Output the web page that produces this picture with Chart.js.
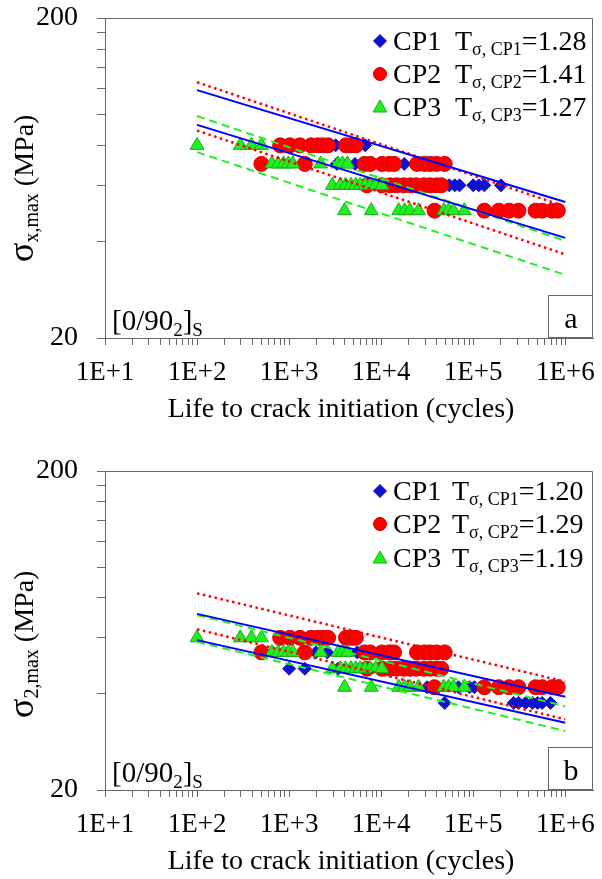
<!DOCTYPE html>
<html>
<head>
<meta charset="utf-8">
<script src="https://cdn.jsdelivr.net/npm/chart.js@4.4.0/dist/chart.umd.min.js"></script>
<style>
  html, body { margin: 0; padding: 0; background: #fff; }
  body { width: 602px; height: 879px; position: relative; overflow: hidden; }
  .panel { position: absolute; left: 0; width: 602px; }
  #pa { top: 0; height: 440px; }
  #pb { top: 453px; height: 426px; }
</style>
</head>
<body>
<div class="panel" id="pa"><canvas id="chart-a"></canvas></div>
<div class="panel" id="pb"><canvas id="chart-b"></canvas></div>
<script>
"use strict";

const SERIF = "'Liberation Serif', 'Times New Roman', serif";

// axes
const X_TICKS = [];
for (let d = 1; d <= 5; d++) for (let m = 1; m <= 9; m++) X_TICKS.push(m * Math.pow(10, d));
X_TICKS.push(1e6);
const X_DECADES = [1e1, 1e2, 1e3, 1e4, 1e5, 1e6];
const X_LABELS = ["1E+1", "1E+2", "1E+3", "1E+4", "1E+5", "1E+6"];
const Y_TICKS = [20, 40, 60, 80, 100, 120, 140, 160, 180, 200];
const Y_LABELS = ["20", "200"];

// legend
const SERIES = ["CP1", "CP2", "CP3"];
const A_T = ["1.28", "1.41", "1.27"];
const B_T = ["1.20", "1.29", "1.19"];

// ---- panel a : sigma_x,max ----
const A_CP1_N = [1300, 2300, 3200, 6700, 3300, 5200, 8300, 17800, 55000, 63000, 71000, 100000, 115000, 132000, 200000, 300000, 600000];
const A_CP1_S = [80, 80, 80, 80, 70, 70, 70, 70, 60, 60, 60, 60, 60, 60, 60, 50, 50];

const A_CP2_N = [800, 1020, 1310, 1730, 2050, 2330, 2650, 4150, 4700, 5300,
  500, 1480, 6600, 7600, 10200, 12200, 13800, 24500, 29500, 34000, 40000, 49000,
  7000, 10200, 12500, 14800, 17600, 20600, 24000, 29000, 34000, 40000, 45000,
  38000, 132000, 190000, 245000, 310000, 475000, 560000, 720000, 830000];
const A_CP2_S = [80, 80, 80, 80, 80, 80, 80, 80, 80, 80,
  70, 70, 70, 70, 70, 70, 70, 70, 70, 70, 70, 70,
  60, 60, 60, 60, 60, 60, 60, 60, 60, 60, 60,
  50, 50, 50, 50, 50, 50, 50, 50, 50];

const A_CP3_N = [100, 295, 390, 500,
  650, 760, 870, 980, 1100, 2200, 3400, 3800, 4300,
  2950, 3600, 4100, 4700, 5300, 5900, 6700, 7600, 8700, 10200,
  4000, 7800, 15500, 18000, 20500, 25500, 48000, 54000, 61000, 80000];
const A_CP3_S = [80, 80, 80, 80,
  70, 70, 70, 70, 70, 70, 70, 70, 70,
  60, 60, 60, 60, 60, 60, 60, 60, 60, 60,
  50, 50, 50, 50, 50, 50, 50, 50, 50, 50];

// scatter band lines (two ends each)
const FIT_N = [100, 1e6];
const A_CP1_UP = [119, 53.2];
const A_CP1_LO = [92.7, 41.1];
const A_CP2_UP = [126, 51.5];
const A_CP2_LO = [89, 36.5];
const A_CP3_UP = [98.8, 40.2];
const A_CP3_LO = [76.2, 31.5];

// ---- panel b : sigma_2,max ----
const B_CP1_N = [1000, 1480, 3400, 1950, 2600, 5500, 31500, 69000, 91000, 103000, 200000,
  49000, 275000, 310000, 370000, 440000, 500000, 560000, 690000];
const B_CP1_S = [48, 48, 48, 54, 54, 54, 42, 42, 42, 42, 42,
  37.5, 37.5, 37.5, 37.5, 37.5, 37.5, 37.5, 37.5];

const B_CP2_N = A_CP2_N;
const B_CP2_S = [60, 60, 60, 60, 60, 60, 60, 60, 60, 60,
  54, 54, 54, 54, 54, 54, 54, 54, 54, 54, 54, 54,
  48, 48, 48, 48, 48, 48, 48, 48, 48, 48, 48,
  42, 42, 42, 42, 42, 42, 42, 42, 42];

const B_CP3_N = A_CP3_N;
const B_CP3_S = [60, 60, 60, 60,
  54, 54, 54, 54, 54, 54, 54, 54, 54,
  48, 48, 48, 48, 48, 48, 48, 48, 48, 48,
  42, 42, 42, 42, 42, 42, 42, 42, 42, 42];

const B_CP1_UP = [71.3, 39.2];
const B_CP1_LO = [59.0, 32.5];
const B_CP2_UP = [82.7, 43.7];
const B_CP2_LO = [63.8, 33.3];
const B_CP3_UP = [70.7, 36.6];
const B_CP3_LO = [58.3, 30.6];

const COLORS = {
  cp1: "#1010d0", cp1Line: "#0000ff",
  cp2: "#ff0000", cp2Edge: "#d80000", cp2Line: "#ff0000",
  cp3: "#22ee22", cp3Edge: "#10b010", cp3Line: "#22ee22",
  axis: "#666666",
};

function pts(ns, ss) {
  return ns.map((n, i) => ({ x: n, y: ss[i] }));
}

function markers(label, ns, ss, style, fill, edge, r, order) {
  return {
    label, data: pts(ns, ss), pointStyle: style, pointRadius: r,
    pointBackgroundColor: fill, pointBorderColor: edge, pointBorderWidth: 1,
    showLine: false, order,
  };
}

function band(ss, color, dash, width) {
  return {
    data: pts(FIT_N, ss), showLine: true, pointRadius: 0, borderColor: color,
    borderWidth: width, borderDash: dash, fill: false, tension: 0, order: 0,
  };
}

function drawRich(ctx, parts, x, y) {
  let cx = x;
  for (const [t, size, dy] of parts) {
    ctx.font = `${size}px ${SERIF}`;
    ctx.fillText(t, cx, y + dy);
    cx += ctx.measureText(t).width;
  }
  return cx - x;
}

function drawMarker(ctx, style, x, y, r, fill, edge) {
  ctx.save();
  ctx.fillStyle = fill;
  ctx.strokeStyle = edge;
  ctx.lineWidth = 1;
  ctx.beginPath();
  if (style === "circle") {
    ctx.arc(x, y, r, 0, Math.PI * 2);
  } else if (style === "rectRot") {
    ctx.moveTo(x, y - r); ctx.lineTo(x + r, y); ctx.lineTo(x, y + r); ctx.lineTo(x - r, y);
    ctx.closePath();
  } else {
    for (let k = 0; k < 3; k++) {
      const a = -Math.PI / 2 + k * 2 * Math.PI / 3;
      const px = x + Math.cos(a) * r, py = y + Math.sin(a) * r;
      if (k === 0) ctx.moveTo(px, py); else ctx.lineTo(px, py);
    }
    ctx.closePath();
  }
  ctx.fill();
  ctx.stroke();
  ctx.restore();
}

const panelDecor = {
  id: "panelDecor",
  afterDraw(chart, args, o) {
    const { ctx, chartArea: ca } = chart;
    ctx.save();
    // frame top + right
    ctx.strokeStyle = COLORS.axis;
    ctx.lineWidth = 1;
    ctx.beginPath();
    ctx.moveTo(ca.left, ca.top + 0.5);
    ctx.lineTo(ca.right - 0.5, ca.top + 0.5);
    ctx.lineTo(ca.right - 0.5, ca.bottom);
    ctx.stroke();
    // panel letter box
    ctx.strokeRect(ca.right - 44.5, ca.bottom - 42.5, 44, 42);
    ctx.fillStyle = "#000";
    ctx.textBaseline = "alphabetic";
    ctx.textAlign = "center";
    ctx.font = `30px ${SERIF}`;
    ctx.fillText(o.letter, ca.right - 22, ca.bottom - 10);
    ctx.textAlign = "left";
    // laminate label
    drawRich(ctx, [["[0/90", 29, 0], ["2", 19, 6], ["]", 29, 0], ["S", 19, 6]], ca.left + 7, ca.bottom - 8);
    // legend
    const styles = [
      ["rectRot", 6.5, COLORS.cp1, COLORS.cp1],
      ["circle", 6.5, COLORS.cp2, COLORS.cp2Edge],
      ["triangle", 8, COLORS.cp3, COLORS.cp3Edge],
    ];
    o.rows.forEach((base, i) => {
      const [st, r, f, e] = styles[i];
      drawMarker(ctx, st, 380, base - 9 + (st === "triangle" ? 1 : 0), r, f, e);
      drawRich(ctx, [[SERIES[i], 28, 0]], 393, base);
      drawRich(ctx, [["T", 28, 0], ["\u03c3, " + SERIES[i], 18, 5], ["=" + o.tvals[i], 28, 0]], o.tx, base);
    });
    // y title (rotated)
    const yParts = [["\u03c3", 36, 0], [o.ysub, 20, 5], [" (MPa)", 28, 0]];
    ctx.translate(33, o.yStart);
    ctx.rotate(-Math.PI / 2);
    drawRich(ctx, yParts, 0, 0);
    ctx.restore();
    // x title
    ctx.save();
    ctx.fillStyle = "#000";
    ctx.font = `28px ${SERIF}`;
    ctx.textAlign = "center";
    ctx.textBaseline = "alphabetic";
    ctx.fillText("Life to crack initiation (cycles)", 341, ca.bottom + 79);
    ctx.restore();
  },
};

function makePanel(id, sets, lines, deco, xHeight) {
  const datasets = [
    ...lines,
    markers("CP3", sets[2][0], sets[2][1], "triangle", COLORS.cp3, COLORS.cp3Edge, 8, 1),
    markers("CP2", sets[1][0], sets[1][1], "circle", COLORS.cp2, COLORS.cp2Edge, 7.5, 2),
    markers("CP1", sets[0][0], sets[0][1], "rectRot", COLORS.cp1, COLORS.cp1, 6.5, 3),
  ];
  return new Chart(document.getElementById(id), {
    type: "scatter",
    data: { datasets },
    plugins: [panelDecor],
    options: {
      responsive: true,
      maintainAspectRatio: false,
      animation: false,
      layout: { padding: { top: 18, right: 5, left: 0, bottom: 0 } },
      plugins: {
        legend: { display: false },
        tooltip: { enabled: false },
        panelDecor: deco,
      },
      scales: {
        x: {
          type: "logarithmic",
          min: 10,
          max: 2e6,
          afterBuildTicks: (s) => { s.ticks = X_TICKS.map((v) => ({ value: v })); },
          afterFit: (s) => { s.height = xHeight; s.paddingLeft = 0; s.paddingRight = 0; },
          ticks: {
            autoSkip: false,
            maxRotation: 0,
            padding: 12,
            color: "#000",
            font: { family: SERIF, size: 27 },
            callback: (v) => {
              const k = X_DECADES.indexOf(v);
              return k >= 0 ? X_LABELS[k] : "";
            },
          },
          grid: { drawOnChartArea: false, drawTicks: true, tickLength: 7, color: COLORS.axis },
          border: { color: COLORS.axis, width: 1 },
        },
        y: {
          type: "logarithmic",
          min: 20,
          max: 200,
          afterBuildTicks: (s) => { s.ticks = Y_TICKS.map((v) => ({ value: v })); },
          afterFit: (s) => { s.width = 105; s.paddingTop = 0; s.paddingBottom = 0; },
          ticks: {
            autoSkip: false,
            padding: 19,
            color: "#000",
            font: { family: SERIF, size: 28 },
            callback: (v) => (Y_LABELS.includes(String(v)) ? String(v) : ""),
          },
          grid: { drawOnChartArea: false, drawTicks: true, tickLength: 8, color: COLORS.axis },
          border: { color: COLORS.axis, width: 1 },
        },
      },
    },
  });
}

const DOT = [2.5, 3.5];
const DASH = [8, 5];

makePanel(
  "chart-a",
  [[A_CP1_N, A_CP1_S], [A_CP2_N, A_CP2_S], [A_CP3_N, A_CP3_S]],
  [
    band(A_CP1_UP, COLORS.cp1Line, [], 2), band(A_CP1_LO, COLORS.cp1Line, [], 2),
    band(A_CP2_UP, COLORS.cp2Line, DOT, 2.5), band(A_CP2_LO, COLORS.cp2Line, DOT, 2.5),
    band(A_CP3_UP, COLORS.cp3Line, DASH, 2), band(A_CP3_LO, COLORS.cp3Line, DASH, 2),
  ],
  { letter: "a", rows: [50, 83, 116], tvals: A_T, tx: 455, ysub: "x,max", yStart: 262 },
  102
);

makePanel(
  "chart-b",
  [[B_CP1_N, B_CP1_S], [B_CP2_N, B_CP2_S], [B_CP3_N, B_CP3_S]],
  [
    band(B_CP1_UP, COLORS.cp1Line, [], 2), band(B_CP1_LO, COLORS.cp1Line, [], 2),
    band(B_CP2_UP, COLORS.cp2Line, DOT, 2.5), band(B_CP2_LO, COLORS.cp2Line, DOT, 2.5),
    band(B_CP3_UP, COLORS.cp3Line, DASH, 2), band(B_CP3_LO, COLORS.cp3Line, DASH, 2),
  ],
  { letter: "b", rows: [47, 80, 114], tvals: B_T, tx: 452, ysub: "2,max", yStart: 265 },
  89
);
</script>
</body>
</html>
